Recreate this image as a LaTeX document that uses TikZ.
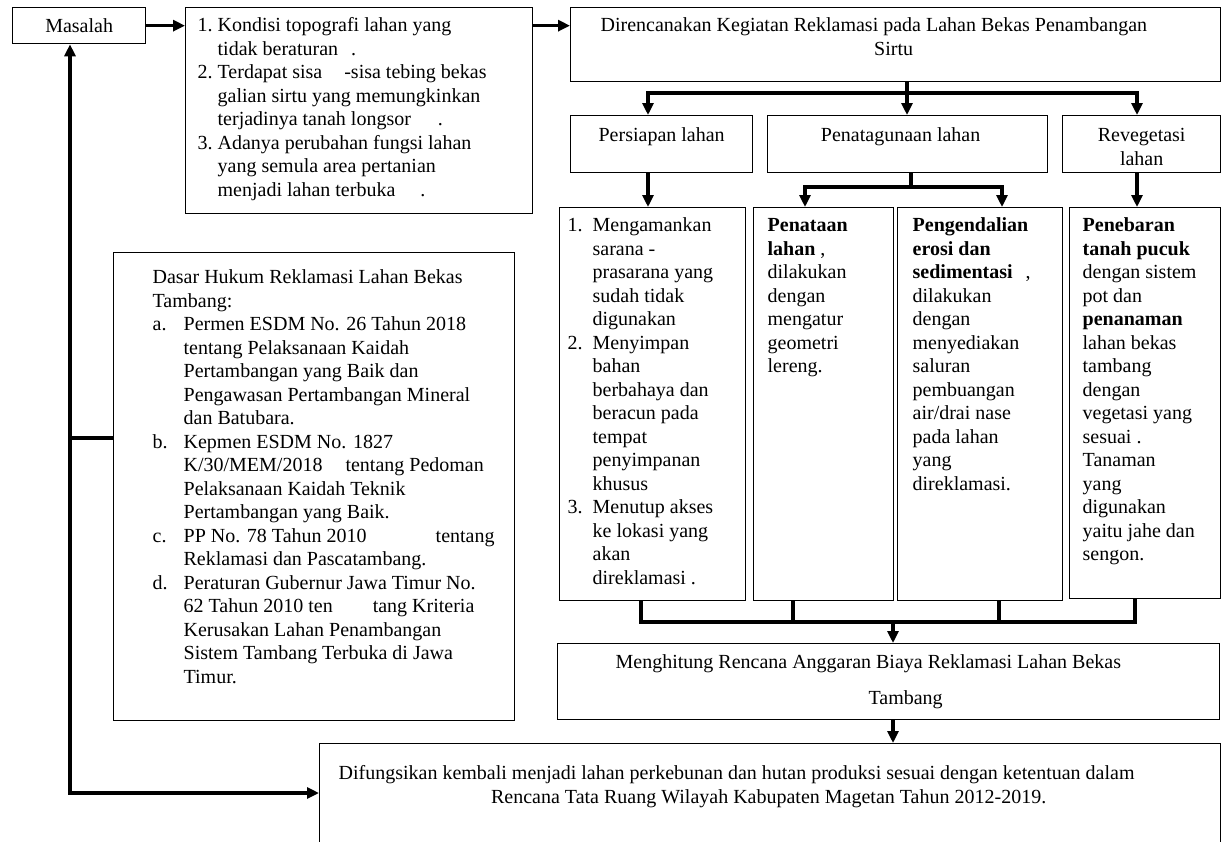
\documentclass[tikz,border=0pt]{standalone}
\usepackage{fontspec}
\setmainfont{Liberation Serif}
\usetikzlibrary{arrows.meta}
\tikzstyle{box} = [draw, line width=0.65pt, inner sep=0pt, anchor=north west]
\tikzstyle{link} = [line width=1.6pt]
\tikzstyle{arrow} = [line width=1.6pt, -{Triangle[length=6pt,width=5.5pt]}]
% left pad, box width, box height, first baseline, text
\newcommand{\boxtext}[5]{\hspace*{#1}\parbox[c][#3][t]{\dimexpr#2-#1\relax}{\rule{0pt}{#4}#5}}
\newcommand{\lbl}[2][10pt]{\makebox[#1][l]{#2}}
\newcommand{\ind}[1][10pt]{\hspace*{#1}}

\begin{document}
\begin{tikzpicture}[x=0.5pt, y=-0.5pt, font=\fontsize{10}{11.75}\selectfont]
    \useasboundingbox (0,0) rectangle (1221,841);
    \clip (0,0) rectangle (1221,841);

    \node[box](masalah) at (12,7) {\boxtext{0pt}{66.5pt}{18pt}{12.5pt}{\centering Masalah}};
    \node[box](problem) at (185,7) {\boxtext{6pt}{173.5pt}{103pt}{12pt}{%
        \lbl{1.}Kondisi topografi lahan yang\\
        \ind tidak beraturan\hspace{4pt} .\\
        \lbl{2.}Terdapat sisa\hspace{11pt}-sisa tebing bekas\\
        \ind galian sirtu yang memungkinkan\\
        \ind terjadinya tanah longsor\hspace{11pt} .\\
        \lbl{3.}Adanya perubahan fungsi lahan\\
        \ind yang semula area pertanian\\
        \ind menjadi lahan terbuka\hspace{10pt} .}};
    \node[box](plan) at (570,7) {\boxtext{15pt}{325pt}{37pt}{12pt}{%
        Direncanakan Kegiatan Reklamasi pada Lahan Bekas Penambangan\par
        \centering\hspace*{-17pt}Sirtu}};

    \node[box](persiapan) at (570,115) {\boxtext{0pt}{91pt}{28.5pt}{13pt}{\centering Persiapan lahan}};
    \node[box](penatagunaan) at (767,115) {\boxtext{0pt}{140pt}{28.5pt}{13pt}{\centering\hspace*{-7pt}Penatagunaan lahan}};
    \node[box](revegetasi) at (1062,115) {\boxtext{0pt}{79pt}{28.5pt}{13pt}{\centering Revegetasi\\lahan}};

    \node[box](siap) at (559,207) {\boxtext{4pt}{93pt}{196.5pt}{12pt}{%
        \lbl[12.5pt]{1.}Mengamankan\\
        \ind[12.5pt]sarana -\\
        \ind[12.5pt]prasarana yang\\
        \ind[12.5pt]sudah tidak\\
        \ind[12.5pt]digunakan\\
        \lbl[12.5pt]{2.}Menyimpan\\
        \ind[12.5pt]bahan\\
        \ind[12.5pt]berbahaya dan\\
        \ind[12.5pt]beracun pada\\
        \ind[12.5pt]tempat\\
        \ind[12.5pt]penyimpanan\\
        \ind[12.5pt]khusus\\
        \lbl[12.5pt]{3.}Menutup akses\\
        \ind[12.5pt]ke lokasi yang\\
        \ind[12.5pt]akan\\
        \ind[12.5pt]direklamasi .}};
    \node[box](tata) at (753,207) {\boxtext{7pt}{70pt}{196.5pt}{12pt}{%
        \textbf{Penataan}\\
        \textbf{lahan} ,\\
        dilakukan\\
        dengan\\
        mengatur\\
        geometri\\
        lereng.}};
    \node[box](erosi) at (897,207) {\boxtext{7.5pt}{82.5pt}{196.5pt}{12pt}{%
        \textbf{Pengendalian}\\
        \textbf{erosi dan}\\
        \textbf{sedimentasi}\hspace{4pt} ,\\
        dilakukan\\
        dengan\\
        menyediakan\\
        saluran\\
        pembuangan\\
        air/drai nase\\
        pada lahan\\
        yang\\
        direklamasi.}};
    \node[box](tebar) at (1069,207) {\boxtext{6.5pt}{75.5pt}{195.5pt}{12pt}{%
        \textbf{Penebaran}\\
        \textbf{tanah pucuk}\\
        dengan sistem\\
        pot dan\\
        \textbf{penanaman}\\
        lahan bekas\\
        tambang\\
        dengan\\
        vegetasi yang\\
        sesuai .\\
        Tanaman\\
        yang\\
        digunakan\\
        yaitu jahe dan\\
        sengon.}};

    \node[box](dasar) at (113,252) {\boxtext{19.5pt}{200.5pt}{234pt}{15.5pt}{%
        Dasar Hukum Reklamasi Lahan Bekas\\
        Tambang:\\
        \lbl[15.5pt]{a.}Permen ESDM No. 26 Tahun 2018\\
        \ind[15.5pt]tentang Pelaksanaan Kaidah\\
        \ind[15.5pt]Pertambangan yang Baik dan\\
        \ind[15.5pt]Pengawasan Pertambangan Mineral\\
        \ind[15.5pt]dan Batubara.\\
        \lbl[15.5pt]{b.}Kepmen ESDM No. 1827\\
        \ind[15.5pt]K/30/MEM/2018\hspace{9pt} tentang Pedoman\\
        \ind[15.5pt]Pelaksanaan Kaidah Teknik\\
        \ind[15.5pt]Pertambangan yang Baik.\\
        \lbl[15.5pt]{c.}PP No. 78 Tahun 2010\hspace{32pt} tentang\\
        \ind[15.5pt]Reklamasi dan Pascatambang.\\
        \lbl[15.5pt]{d.}Peraturan Gubernur Jawa Timur No.\\
        \ind[15.5pt]62 Tahun 2010 ten\hspace{20pt}tang Kriteria\\
        \ind[15.5pt]Kerusakan Lahan Penambangan\\
        \ind[15.5pt]Sistem Tambang Terbuka di Jawa\\
        \ind[15.5pt]Timur.}};

    \node[box](hitung) at (557,643) {\boxtext{29pt}{331pt}{38pt}{12.5pt}{%
        Menghitung Rencana Anggaran Biaya Reklamasi Lahan Bekas\par
        \vspace{6.25pt}\centering\hspace*{-12pt}Tambang}};
    \node[box](result) at (319,743) {\boxtext{9.5pt}{450.5pt}{60pt}{18pt}{%
        Difungsikan kembali menjadi lahan perkebunan dan hutan produksi sesuai dengan ketentuan dalam\par
        \centering\hspace*{-11pt}Rencana Tata Ruang Wilayah Kabupaten Magetan Tahun 2012-2019.}};

    % top row
    \draw[arrow] (masalah.east) -- (masalah.east -| problem.west);
    \draw[arrow] (problem.east |- masalah.east) -- (plan.west |- masalah.east);

    \coordinate (plan split) at (907,93);
    \coordinate (split left) at (648,93);
    \coordinate (split right) at (1137,93);
    \draw[arrow] (plan.south -| plan split) -- (penatagunaan.north -| plan split);
    \draw[arrow] (plan split) -- (split left) -- (split left |- persiapan.north);
    \draw[arrow] (plan split) -- (split right) -- (split right |- revegetasi.north);

    \draw[arrow] (persiapan.south -| split left) -- (siap.north -| split left);
    \draw[arrow] (revegetasi.south -| split right) -- (tebar.north -| split right);

    \coordinate (tata split) at (911,187);
    \coordinate (sub left) at (805,187);
    \coordinate (sub right) at (1002,187);
    \draw[link] (penatagunaan.south -| tata split) -- (tata split);
    \draw[arrow] (tata split) -- (sub left) -- (sub left |- tata.north);
    \draw[arrow] (tata split) -- (sub right) -- (sub right |- erosi.north);

    % join to the budget
    \coordinate (j1) at (641,622);
    \coordinate (j2) at (793,622);
    \coordinate (j3) at (999,622);
    \coordinate (j4) at (1135,622);
    \coordinate (jm) at (893,622);
    \draw[link] (siap.south -| j1) -- (j1) -- (j4) -- (tebar.south -| j4);
    \draw[link] (tata.south -| j2) -- (j2);
    \draw[link] (erosi.south -| j3) -- (j3);
    \draw[arrow] (jm) -- (hitung.north -| jm);
    \draw[arrow] (hitung.south -| jm) -- (result.north -| jm);

    % legal basis loop
    \coordinate (loop top) at (70,438);
    \coordinate (loop bot) at (70,793);
    \draw[link] (dasar.west |- loop top) -- (loop top);
    \draw[arrow] (loop top) -- (loop top |- masalah.south);
    \draw[arrow] (loop top) -- (loop bot) -- (loop bot -| result.west);
\end{tikzpicture}
\end{document}
